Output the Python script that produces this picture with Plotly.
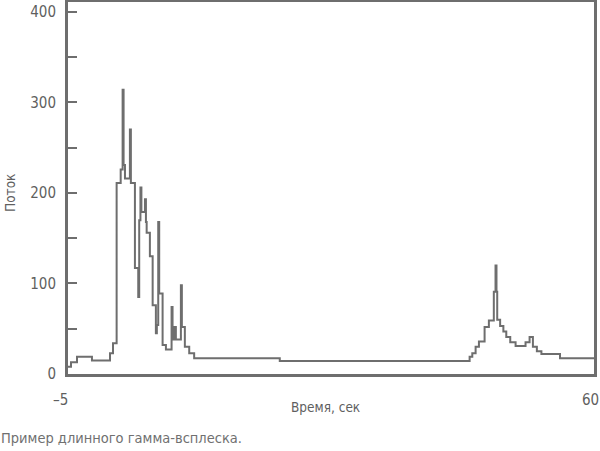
import plotly.graph_objects as go

# Bin start times (s) and flux values for the step light curve
time_s = [-5.0, -4.63, -3.89, -2.04, 0.19, 0.56, 1.01, 1.51, 1.75, 1.87,
          2.04, 2.65, 2.77, 3.27, 3.68, 3.80, 3.95, 4.07, 4.51, 4.63,
          4.72, 5.12, 5.46, 5.86, 5.98, 6.15, 6.27, 6.69, 7.10, 7.80,
          7.92, 8.0, 8.08, 8.16, 8.24, 8.33, 8.95, 9.07, 9.44, 9.98,
          10.59, 21.17, 44.63, 44.96, 45.37, 45.78, 46.48, 47.01, 47.62, 47.83,
          47.95, 48.04, 48.40, 48.80, 49.16, 49.65, 50.31, 51.54, 52.04, 52.45,
          52.94, 53.50, 55.80, 60.0]
flux = [8, 13, 19, 15, 23, 34, 211, 226, 314, 231,
        216, 270, 211, 117, 85, 170, 206, 179, 193, 168,
        156, 130, 76, 45, 54, 168, 89, 32, 27, 74,
        52, 38, 52, 38, 52, 38, 98, 52, 30, 23,
        17.5, 14.4, 19, 23, 30, 36, 52, 59, 91, 120,
        91, 60, 53, 47, 41, 35, 31, 35, 41, 30,
        25, 22, 17.5, 17.5]
assert len(time_s) == len(flux)

y_ticks = [0, 100, 200, 300, 400]
x_tick_left = "–5"
x_tick_right = "60"
x_title = "Время, сек"
y_title = "Поток"
caption = "Пример длинного гамма-всплеска."

FONT = "DejaVu Sans Condensed, Liberation Sans Narrow, sans-serif"
GRAY = "#6e6e6e"
TXT = "#5f5f5f"

fig = go.Figure()
fig.add_trace(go.Scatter(x=time_s, y=flux, mode="lines",
                         line=dict(shape="hv", color=GRAY, width=2),
                         hoverinfo="skip", showlegend=False))

fig.update_xaxes(range=[-5, 60], showline=True, mirror=True, linewidth=3,
                 linecolor=GRAY, showgrid=False, zeroline=False,
                 showticklabels=False, ticks="", automargin=False)
fig.update_yaxes(range=[0, 411], showline=True, mirror=True, linewidth=3,
                 linecolor=GRAY, showgrid=False, zeroline=False,
                 tickvals=y_ticks, ticks="inside", ticklen=9, tickwidth=2,
                 tickcolor=GRAY, ticklabelstandoff=6, automargin=False,
                 tickfont=dict(family=FONT, size=15, color=TXT),
                 minor=dict(dtick=50, ticks="inside", ticklen=9, tickwidth=2,
                            tickcolor=GRAY, showgrid=False))

annotations = [
    dict(x=-5, y=0, xref="x", yref="paper", text=x_tick_left, showarrow=False,
         yanchor="middle", xanchor="right", yshift=-26, xshift=2,
         font=dict(family=FONT, size=15, color=TXT)),
    dict(x=1, y=0, xref="paper", yref="paper", text=x_tick_right, showarrow=False,
         yanchor="middle", xanchor="right", yshift=-26, xshift=7,
         font=dict(family=FONT, size=15, color=TXT)),
    dict(x=0.49, y=0, xref="paper", yref="paper", text=x_title, showarrow=False,
         yanchor="middle", xanchor="center", yshift=-33,
         font=dict(family=FONT, size=13.5, color=TXT)),
    dict(x=0, y=200, xref="paper", yref="y", text=y_title, showarrow=False,
         textangle=-90, xanchor="center", yanchor="middle", xshift=-58,
         font=dict(family=FONT, size=13.5, color=TXT)),
    dict(x=0, y=0, xref="paper", yref="paper", text=caption, showarrow=False,
         yanchor="middle", xanchor="left", xshift=-69, yshift=-64,
         font=dict(family=FONT, size=14.5, color="#707070")),
]

fig.update_layout(width=600, height=451, margin=dict(l=68, r=6, t=2, b=77),
                  paper_bgcolor="white", plot_bgcolor="white",
                  annotations=annotations)

fig.write_html("out.html", config={"displayModeBar": False},
               post_script="document.body.style.margin='0';document.body.style.padding='0';")
